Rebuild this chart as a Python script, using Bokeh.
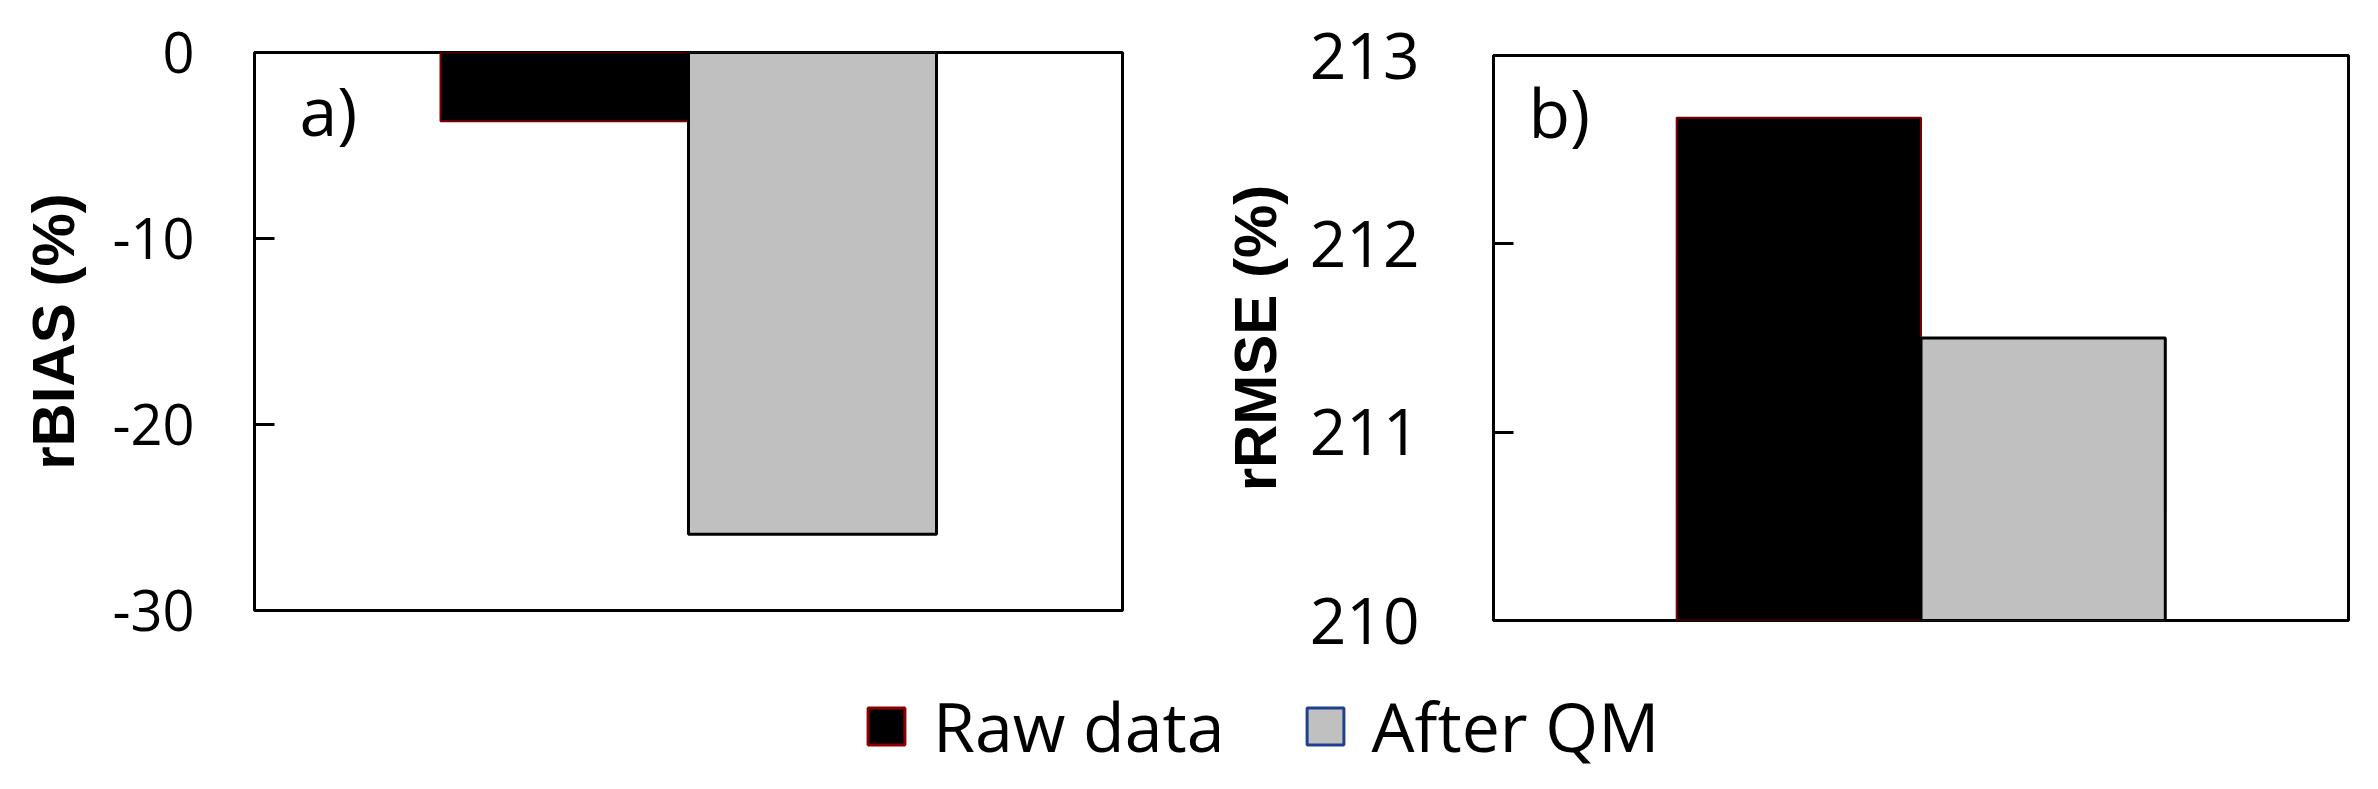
from bokeh.plotting import figure
from bokeh.models import (FactorRange, Range1d, FixedTicker, Legend, LegendItem,
                          ColumnDataSource, Label, CustomJSTickFormatter)
from bokeh.layouts import row, column
from bokeh.embed import file_html
from bokeh.resources import INLINE

# ---- data ----
series = ["Raw data", "After QM"]
rbias = [-3.7, -25.9]
rrmse = [212.67, 211.5]
rbias_base = 0
rrmse_base = 210
rbias_ticks = [0, -10, -20, -30]
rrmse_ticks = [210, 211, 212, 213]
panel_tags = ["a)", "b)"]
y_titles = ["rBIAS (%)", "rRMSE (%)"]

fill_colors = ["#000000", "#c0c0c0"]
line_colors = ["#7a0000", "#000000"]
line_widths = [2, 3]
legend_line_colors = ["#8b0000", "#1f3f8f"]

TICK_FONT = "Open Sans"
TITLE_FONT = "Liberation Sans"


def panel(values, base, yrange, ticks, title, tag, width, height,
          bl, br, bt, bb, tick_size, title_standoff, label_standoff, tag_xy):
    p = figure(width=width, height=height,
               x_range=FactorRange(*series, range_padding=0.75),
               y_range=Range1d(*yrange),
               x_axis_location=None,
               output_backend="svg", toolbar_location=None,
               min_border_left=bl, min_border_right=br,
               min_border_top=bt, min_border_bottom=bb)
    p.grid.visible = False
    p.outline_line_color = "black"
    p.outline_line_width = 3
    p.background_fill_color = "white"
    p.border_fill_color = "white"

    src = ColumnDataSource(dict(x=series, v=values, b=[base] * len(values),
                                fill=fill_colors, line=line_colors, lw=line_widths))
    if base >= max(values):
        p.vbar(x="x", top="b", bottom="v", width=1.0, fill_color="fill",
               line_color="line", line_width="lw", source=src)
    else:
        p.vbar(x="x", top="v", bottom="b", width=1.0, fill_color="fill",
               line_color="line", line_width="lw", source=src)

    ax = p.yaxis[0]
    ax.ticker = FixedTicker(ticks=ticks)
    ax.formatter = CustomJSTickFormatter(code="return String(tick);")
    ax.minor_tick_line_color = None
    ax.major_tick_in = 20
    ax.major_tick_out = 0
    ax.major_tick_line_width = 3
    ax.major_tick_line_color = "black"
    ax.axis_line_color = None
    ax.major_label_text_font = TICK_FONT
    ax.major_label_text_font_size = tick_size
    ax.major_label_text_color = "black"
    ax.major_label_standoff = label_standoff
    ax.axis_label = title
    ax.axis_label_text_font = TITLE_FONT
    ax.axis_label_text_font_style = "bold"
    ax.axis_label_text_font_size = "60px"
    ax.axis_label_text_color = "black"
    ax.axis_label_standoff = title_standoff

    p.add_layout(Label(x=tag_xy[0], y=tag_xy[1], x_units="screen", y_units="screen",
                       text=tag, text_font=TICK_FONT, text_font_size="68px",
                       text_color="black", text_baseline="alphabetic"))
    return p


p1 = panel(rbias, rbias_base, (-30, 0), rbias_ticks, y_titles[0], panel_tags[0],
           width=1180, height=665, bl=254, br=58, bt=52, bb=55,
           tick_size="56px", title_standoff=22, label_standoff=60, tag_xy=(45, 501))
p2 = panel(rrmse, rrmse_base, (210, 213), rrmse_ticks, y_titles[1], panel_tags[1],
           width=1190, height=665, bl=313, br=22, bt=55, bb=45,
           tick_size="64px", title_standoff=18, label_standoff=74, tag_xy=(35, 509))

# ---- legend strip ----
p3 = figure(width=2370, height=120,
            x_range=FactorRange(*series), y_range=Range1d(0, 1),
            x_axis_location=None, y_axis_location=None,
            output_backend="svg", toolbar_location=None,
            min_border=0, min_border_left=0, min_border_right=0,
            min_border_top=0, min_border_bottom=0)
p3.outline_line_color = None
p3.grid.visible = False
lsrc = ColumnDataSource(dict(x=series, v=rbias, fill=fill_colors, line=legend_line_colors))
# hidden renderer: only its legend swatches are drawn
lr = p3.vbar(x="x", top="v", bottom="v", width=1.0, fill_color="fill",
             line_color="line", line_width=3, source=lsrc)
lr.visible = False
legend = Legend(items=[LegendItem(label=series[i], renderers=[lr], index=i)
                       for i in range(len(series))],
                orientation="horizontal", location=(863, 13),
                glyph_width=46, glyph_height=46, label_standoff=24, spacing=77,
                padding=0, margin=0, border_line_color=None,
                background_fill_alpha=0, inactive_fill_alpha=0,
                label_text_font=TICK_FONT, label_text_font_size="68px",
                label_text_color="black")
p3.add_layout(legend)

layout = column(row(column(p1), column(p2)), p3)
open("out.html", "w").write(file_html(layout, INLINE))
